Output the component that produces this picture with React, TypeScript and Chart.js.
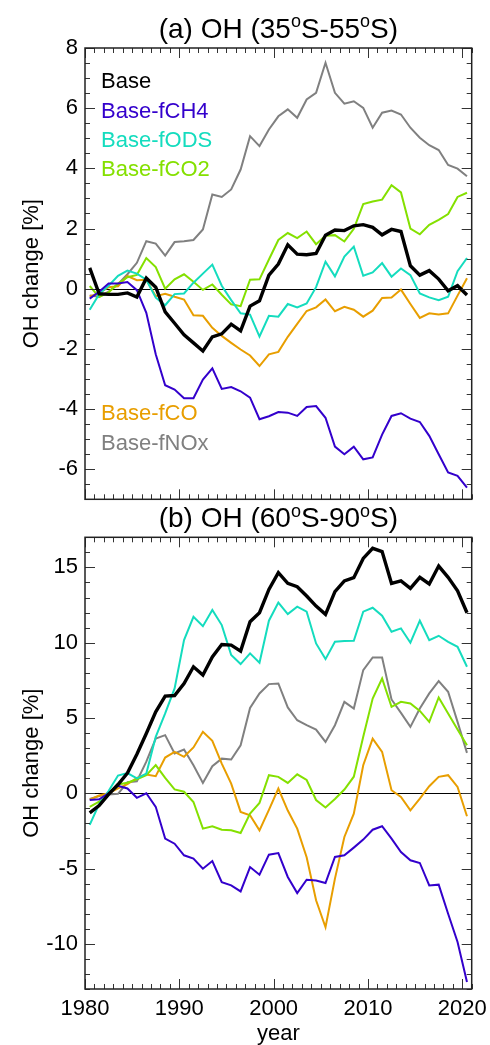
import React, { useEffect, useRef } from "react";
import { Chart, registerables } from "chart.js";

Chart.register(...registerables);

const FONT = "'Liberation Sans', Arial, Helvetica, sans-serif";
Chart.defaults.font.family = FONT;
Chart.defaults.color = "#000";

// ---------- data ----------
const years = [
  1980, 1981, 1982, 1983, 1984, 1985, 1986, 1987, 1988, 1989,
  1990, 1991, 1992, 1993, 1994, 1995, 1996, 1997, 1998, 1999,
  2000, 2001, 2002, 2003, 2004, 2005, 2006, 2007, 2008, 2009,
  2010, 2011, 2012, 2013, 2014, 2015, 2016, 2017, 2018, 2019, 2020,
];
const xTickValues = [1980, 1990, 2000, 2010, 2020];
const xTickLabels = ["1980", "1990", "2000", "2010", "2020"];
const yTicksA = [-6, -4, -2, 0, 2, 4, 6, 8];
const yTicksB = [-10, -5, 0, 5, 10, 15];

const seriesNames = ["Base", "Base-fCH4", "Base-fODS", "Base-fCO2", "Base-fCO", "Base-fNOx"];
const seriesColors = ["#000000", "#3300cc", "#14dcbe", "#84e000", "#e89e00", "#808080"];
const seriesWidths = [3.4, 2, 2, 2, 2, 2];

const titleA = ["(a) OH (35", "o", "S-55", "o", "S)"];
const titleB = ["(b) OH (60", "o", "S-90", "o", "S)"];
const yTitle = "OH change [%]";
const xTitle = "year";

// Panel (a) 35S-55S
const baseA = [0.69, -0.17, -0.19, -0.19, -0.14, -0.28, 0.35, 0.05, -0.77, -1.15, -1.53, -1.8, -2.07, -1.6, -1.5, -1.18, -1.4, -0.58, -0.4, 0.45, 0.82, 1.46, 1.15, 1.13, 1.17, 1.78, 1.95, 1.93, 2.09, 2.13, 2.04, 1.79, 1.97, 1.9, 0.76, 0.45, 0.6, 0.32, -0.07, 0.1, -0.21];
const fch4A = [-0.33, -0.1, 0.17, 0.17, 0.22, -0.05, -0.8, -2.18, -3.21, -3.35, -3.64, -3.64, -3.02, -2.65, -3.33, -3.27, -3.41, -3.62, -4.34, -4.24, -4.1, -4.12, -4.23, -3.93, -3.9, -4.29, -5.25, -5.5, -5.25, -5.67, -5.61, -4.85, -4.23, -4.14, -4.32, -4.43, -4.89, -5.5, -6.11, -6.22, -6.61];
const fodsA = [-0.7, -0.18, 0.1, 0.43, 0.6, 0.5, 0.3, -0.3, -0.55, -0.18, -0.16, 0.2, 0.5, 0.8, 0.1, -0.38, -0.82, -0.86, -1.59, -0.9, -0.93, -0.51, -0.62, -0.49, 0.05, 0.9, 0.41, 1.07, 1.4, 0.43, 0.54, 0.85, 0.4, 0.67, 0.45, -0.16, -0.29, -0.38, -0.27, 0.58, 1.02];
const fco2A = [0.09, -0.28, -0.12, 0.17, 0.38, 0.46, 1.02, 0.72, 0.0, 0.31, 0.48, 0.23, -0.04, 0.14, -0.2, -0.52, -0.58, 0.3, 0.31, 0.97, 1.62, 1.85, 1.68, 1.9, 1.48, 1.76, 1.78, 1.57, 1.99, 2.81, 2.9, 2.96, 3.44, 3.2, 2.0, 1.81, 2.12, 2.29, 2.48, 3.05, 3.19];
const fcoA = [-0.26, -0.15, 0.05, 0.08, 0.42, 0.28, 0.3, -0.25, -0.17, -0.27, -0.36, -0.88, -0.9, -1.3, -1.57, -1.8, -2.02, -2.22, -2.57, -2.18, -2.1, -1.6, -1.17, -0.74, -0.62, -0.36, -0.75, -0.6, -0.7, -0.93, -0.73, -0.31, -0.29, -0.03, -0.51, -0.97, -0.82, -0.86, -0.82, -0.23, 0.35];
const fnoxA = [-0.23, -0.27, -0.1, 0.15, 0.48, 0.86, 1.58, 1.5, 1.1, 1.55, 1.58, 1.62, 1.97, 3.13, 3.05, 3.3, 3.96, 5.07, 4.74, 5.29, 5.73, 5.96, 5.68, 6.29, 6.51, 7.51, 6.51, 6.15, 6.23, 6.01, 5.35, 5.85, 5.92, 5.79, 5.35, 5.02, 4.77, 4.61, 4.11, 3.99, 3.74];

// Panel (b) 60S-90S
const baseB = [-1.3, -0.82, -0.07, 0.58, 1.34, 2.59, 3.97, 5.41, 6.45, 6.49, 7.29, 8.4, 7.85, 9.06, 9.88, 9.84, 9.44, 11.39, 11.99, 13.54, 14.65, 13.94, 13.72, 13.1, 12.43, 11.88, 13.39, 14.1, 14.32, 15.6, 16.27, 16.05, 13.94, 14.1, 13.61, 14.34, 13.9, 15.09, 14.34, 13.45, 11.99];
const fch4B = [-0.45, -0.4, 0.0, 0.5, 0.32, -0.3, 0.0, -0.9, -3.01, -3.35, -4.12, -4.34, -5.01, -4.5, -5.9, -6.12, -6.52, -4.9, -5.41, -4.08, -3.97, -5.56, -6.63, -5.74, -5.79, -5.96, -4.23, -4.12, -3.61, -3.08, -2.42, -2.19, -3.01, -3.9, -4.45, -4.63, -6.12, -6.07, -8.0, -9.88, -12.54];
const fodsB = [-2.1, -0.72, 0.15, 1.18, 1.34, 0.99, 1.31, 3.75, 5.3, 6.96, 10.17, 11.72, 11.1, 12.17, 11.17, 9.18, 8.58, 9.29, 8.67, 11.46, 12.66, 11.9, 12.39, 12.06, 9.95, 8.91, 10.06, 10.11, 10.13, 12.06, 12.32, 11.79, 10.73, 10.95, 10.0, 11.46, 10.17, 10.46, 10.06, 9.73, 8.4];
const fco2B = [-0.9, -0.56, 0.0, 0.58, 0.7, 0.93, 1.2, 1.87, 1.02, 0.26, 0.1, -0.58, -2.35, -2.19, -2.42, -2.46, -2.64, -1.35, -0.64, 1.2, 1.09, 0.69, 1.26, 0.88, -0.45, -0.94, -0.38, 0.25, 1.1, 3.75, 6.29, 7.62, 5.74, 6.07, 5.96, 5.47, 4.74, 6.36, 5.3, 4.23, 3.19];
const fcoB = [-0.42, -0.15, 0.0, 0.32, 0.6, 1.02, 1.25, 1.13, 2.37, 2.75, 2.42, 3.04, 4.08, 3.48, 1.97, 0.64, -1.24, -1.46, -2.46, -1.1, 0.31, -1.15, -2.35, -4.25, -7.11, -8.9, -5.67, -2.9, -1.35, 1.86, 3.63, 2.75, 0.2, -0.24, -1.13, -0.35, 0.47, 1.09, 1.2, 0.42, -1.53];
const fnoxB = [-0.38, -0.19, -0.08, -0.04, 0.73, 0.8, 2.1, 3.63, 3.86, 2.64, 2.9, 1.86, 0.69, 1.8, 2.3, 2.24, 3.19, 5.67, 6.63, 7.25, 7.29, 5.7, 4.85, 4.52, 4.23, 3.41, 4.52, 6.07, 5.63, 8.18, 9.02, 9.02, 6.23, 5.34, 4.41, 5.63, 6.63, 7.45, 6.74, 4.74, 2.68];

const seriesA = [baseA, fch4A, fodsA, fco2A, fcoA, fnoxA];
const seriesB = [baseB, fch4B, fodsB, fco2B, fcoB, fnoxB];

// ---------- drawing helpers ----------
const idlPlugin = {
  id: "idl",
  beforeDatasetsDraw(chart: any) {
    const { ctx, chartArea: ca, scales } = chart;
    const y0 = Math.round(scales.y.getPixelForValue(0)) + 0.5;
    ctx.save();
    ctx.strokeStyle = "#000";
    ctx.lineWidth = 1;
    ctx.beginPath();
    ctx.moveTo(ca.left, y0);
    ctx.lineTo(ca.right, y0);
    ctx.stroke();
    ctx.restore();
  },
  afterDatasetsDraw(chart: any, _args: any, opts: any) {
    const { ctx, chartArea: ca, scales } = chart;
    const x = scales.x;
    const y = scales.y;
    ctx.save();
    const seg = (x1: number, y1: number, x2: number, y2: number) => {
      ctx.beginPath();
      ctx.moveTo(x1, y1);
      ctx.lineTo(x2, y2);
      ctx.stroke();
    };
    ctx.strokeStyle = "#333";
    ctx.lineWidth = 1;
    // x ticks (major every 10 years, minor every year), inward, top & bottom
    for (let k = 0; x.min + k <= x.max; k++) {
      const v = x.min + k;
      const px = Math.round(x.getPixelForValue(v)) + 0.5;
      const len = xTickValues.includes(v) ? 10 : 5;
      seg(px, ca.top, px, ca.top + len);
      seg(px, ca.bottom, px, ca.bottom - len);
    }
    // y ticks
    const step = opts.yMinor;
    for (let k = 0; y.min + k * step <= y.max + 1e-9; k++) {
      const v = y.min + k * step;
      const py = Math.round(y.getPixelForValue(v)) + 0.5;
      const major = opts.yMajor.some((m: number) => Math.abs(m - v) < 1e-9);
      const len = major ? 10 : 5;
      seg(ca.left, py, ca.left + len, py);
      seg(ca.right, py, ca.right - len, py);
    }
    // frame
    ctx.strokeStyle = "#222";
    ctx.lineWidth = 1.5;
    ctx.strokeRect(ca.left, ca.top, ca.right - ca.left, ca.bottom - ca.top);

    // legend (text only)
    if (opts.legend) {
      ctx.font = `22px ${FONT}`;
      ctx.textAlign = "left";
      ctx.textBaseline = "alphabetic";
      opts.legend.forEach((it: any) => {
        ctx.fillStyle = it.color;
        const yy = it.fromTop != null ? ca.top + it.fromTop : ca.bottom - it.fromBottom;
        ctx.fillText(it.text, ca.left + 16, yy);
      });
    }

    // title with superscript "o"
    if (opts.title) {
      const parts: string[] = opts.title;
      const mainFont = `28px ${FONT}`;
      const supFont = `18px ${FONT}`;
      let total = 0;
      const widths = parts.map((p, i) => {
        ctx.font = i % 2 === 1 ? supFont : mainFont;
        const w = ctx.measureText(p).width;
        total += w;
        return w;
      });
      let cx = (ca.left + ca.right) / 2 - total / 2;
      const base = ca.top - opts.titleGap;
      ctx.fillStyle = "#000";
      ctx.textAlign = "left";
      ctx.textBaseline = "alphabetic";
      parts.forEach((p, i) => {
        const sup = i % 2 === 1;
        ctx.font = sup ? supFont : mainFont;
        ctx.fillText(p, cx, sup ? base - 10.6 : base);
        cx += widths[i];
      });
    }
    ctx.restore();
  },
};

function makeConfig(panel: "a" | "b") {
  const isA = panel === "a";
  const series = isA ? seriesA : seriesB;
  const yTicks = isA ? yTicksA : yTicksB;
  const datasets = series.map((vals, si) => ({
    label: seriesNames[si],
    data: years.map((yr, i) => ({ x: yr + 0.5, y: vals[i] })),
    borderColor: seriesColors[si],
    backgroundColor: seriesColors[si],
    borderWidth: seriesWidths[si],
    pointRadius: 0,
    tension: 0,
    fill: false,
    borderJoinStyle: "miter" as const,
  }));
  const legend = isA
    ? [
        { text: seriesNames[0], color: seriesColors[0], fromTop: 40.3 },
        { text: seriesNames[1], color: seriesColors[1], fromTop: 69.6 },
        { text: seriesNames[2], color: seriesColors[2], fromTop: 98.9 },
        { text: seriesNames[3], color: seriesColors[3], fromTop: 128.2 },
        { text: seriesNames[4], color: seriesColors[4], fromBottom: 79.3 },
        { text: seriesNames[5], color: seriesColors[5], fromBottom: 49.8 },
      ]
    : null;

  return {
    type: "line" as const,
    data: { datasets },
    plugins: [idlPlugin],
    options: {
      animation: false as const,
      responsive: false,
      devicePixelRatio: 1,
      events: [],
      layout: {
        padding: isA
          ? { left: 0, right: 18.3, top: 48, bottom: 10.7 }
          : { left: 0, right: 18.3, top: 32.3, bottom: 0 },
      },
      plugins: {
        legend: { display: false },
        tooltip: { enabled: false },
        title: { display: false },
        idl: {
          yMinor: isA ? 0.5 : 1,
          yMajor: yTicks,
          legend,
          title: isA ? titleA : titleB,
          titleGap: 10,
        },
      },
      scales: {
        x: {
          type: "linear" as const,
          min: 1980,
          max: 2021,
          display: !isA,
          grid: { display: false, drawTicks: false },
          border: { display: false },
          afterBuildTicks: (s: any) => {
            s.ticks = xTickValues.map((v) => ({ value: v }));
          },
          afterFit: (s: any) => {
            s.height = isA ? 0 : 56;
            s.paddingLeft = 0;
            s.paddingRight = 0;
          },
          ticks: {
            autoSkip: false,
            maxRotation: 0,
            padding: 7,
            font: { size: 22 },
            color: "#000",
            callback: (v: any) => xTickLabels[xTickValues.indexOf(v)] ?? "",
          },
          title: {
            display: !isA,
            text: xTitle,
            font: { size: 22, lineHeight: 1 },
            padding: { top: 0, bottom: 0 },
            color: "#000",
          },
        },
        y: {
          type: "linear" as const,
          min: isA ? -7 : -13,
          max: isA ? 8 : 17,
          grid: { display: false, drawTicks: false },
          border: { display: false },
          afterBuildTicks: (s: any) => {
            s.ticks = yTicks.map((v) => ({ value: v }));
          },
          afterFit: (s: any) => {
            s.width = 85;
            s.paddingTop = 0;
            s.paddingBottom = 0;
          },
          ticks: {
            padding: 7,
            font: { size: 22 },
            color: "#000",
            callback: (v: any) => String(v),
          },
          title: {
            display: true,
            text: yTitle,
            font: { size: 22, lineHeight: 1 },
            padding: { top: 21, bottom: 0 },
            color: "#000",
          },
        },
      },
    },
  };
}

function Panel({ panel, top, height }: { panel: "a" | "b"; top: number; height: number }) {
  const ref = useRef<HTMLCanvasElement | null>(null);
  useEffect(() => {
    if (!ref.current) return;
    const chart = new Chart(ref.current, makeConfig(panel) as any);
    return () => chart.destroy();
  }, [panel]);
  return (
    <canvas
      ref={ref}
      width={490}
      height={height}
      style={{ position: "absolute", left: 0, top, width: 490, height, display: "block" }}
    />
  );
}

export default function App() {
  return (
    <div
      style={{
        position: "absolute",
        left: 0,
        top: 0,
        width: 490,
        height: 1045,
        background: "#fff",
        overflow: "hidden",
      }}
    >
      <Panel panel="a" top={0} height={510} />
      <Panel panel="b" top={505} height={540} />
    </div>
  );
}
